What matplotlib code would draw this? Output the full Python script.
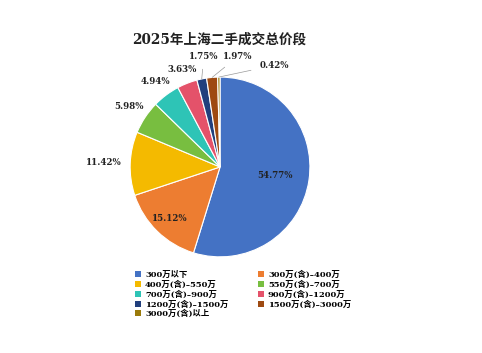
import numpy as np
import matplotlib.pyplot as plt

plt.rcParams['font.family'] = ['DejaVu Serif', 'Noto Sans CJK SC']

# data
labels = ['300万以下', '300万(含)–400万', '400万(含)–550万', '550万(含)–700万',
          '700万(含)–900万', '900万(含)–1200万', '1200万(含)–1500万',
          '1500万(含)–3000万', '3000万(含)以上']
shares = [54.77, 15.12, 11.42, 5.98, 4.94, 3.63, 1.75, 1.97, 0.42]
colors = ['#4472C4', '#ED7D31', '#F4BA00', '#78BE40', '#2EC4B6',
          '#E4526A', '#213F7D', '#9E4A12', '#9A7A0A']

fig = plt.figure(figsize=(4.82, 3.53), dpi=100)
fig.patch.set_facecolor('white')
ax = fig.add_axes([0.270, 0.272, 0.373, 0.51])

wedges, _ = ax.pie(shares, colors=colors, startangle=90, counterclock=False,
                   wedgeprops=dict(edgecolor='white', linewidth=0.8))
ax.set_aspect('equal')
ax.set_xlim(-1, 1)
ax.set_ylim(-1, 1)

# label placement (radius, or explicit text offset with leader line)
cum = np.cumsum(shares) - np.array(shares) / 2
mid = np.deg2rad(90 - 360 * cum / 100)
radii = [0.62, 0.80, 1.29, 1.21, 1.19, 1.16]
for i, r in enumerate(radii):
    ax.text(r * np.cos(mid[i]), r * np.sin(mid[i]), f'{shares[i]:.2f}%',
            ha='center', va='center', fontsize=6.2, fontweight='bold',
            color='#222222')

leader = {6: (-0.18, 1.23), 7: (0.20, 1.23), 8: (0.60, 1.13)}
for i, (tx, ty) in leader.items():
    ax.annotate(f'{shares[i]:.2f}%', xy=(np.cos(mid[i]), np.sin(mid[i])),
                xytext=(tx, ty), ha='center', va='center', fontsize=6.2,
                fontweight='bold', color='#222222', annotation_clip=False,
                arrowprops=dict(arrowstyle='-', color='#999999', lw=0.5,
                                shrinkA=4, shrinkB=0))

fig.text(0.455, 0.887, '2025年上海二手成交总价段', ha='center', va='center',
         fontsize=9.8, fontweight='bold', color='#222222')

order = [0, 2, 4, 6, 8, 1, 3, 5, 7]
leg = fig.legend([wedges[k] for k in order], [labels[k] for k in order],
                 ncol=2, loc='upper left', bbox_to_anchor=(0.281, 0.233),
                 frameon=False, handlelength=0.7,
                 handleheight=0.7, handletextpad=0.45, labelspacing=0.18,
                 columnspacing=3.6, borderpad=0, borderaxespad=0,
                 prop=dict(weight='bold', size=6))
for p in leg.get_patches():
    p.set_edgecolor('none')

fig.savefig('out.png', dpi=100)
